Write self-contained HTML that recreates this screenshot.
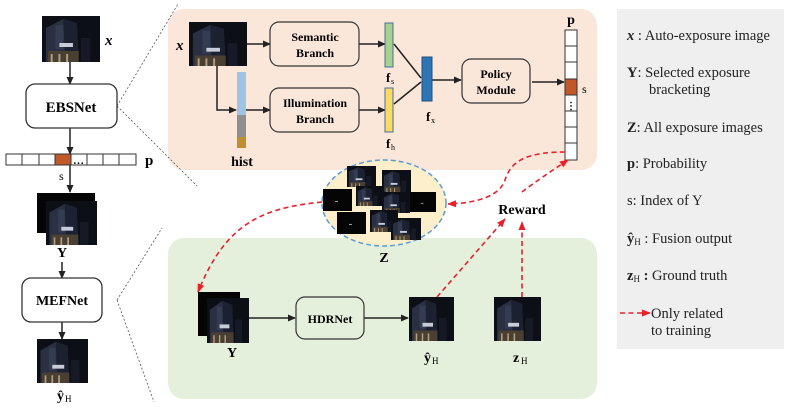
<!DOCTYPE html>
<html><head><meta charset="utf-8"><style>
html,body{margin:0;padding:0;background:#fff;}
svg{display:block;font-family:"Liberation Serif",serif;}
</style></head><body>
<svg width="789" height="409" viewBox="0 0 789 409" xmlns="http://www.w3.org/2000/svg">
<defs>
<symbol id="ph" viewBox="0 0 60 46" preserveAspectRatio="none">
<rect width="60" height="46" fill="#0d0f16"/>
<polygon points="4,12 22,3 36,7 38,46 4,46" fill="#2a3042"/>
<polygon points="22,3 36,7 38,46 24,46" fill="#1c2131"/>
<rect x="14" y="9" width="8" height="24" fill="#343c52"/>
<rect x="18" y="27" width="14" height="4" fill="#c8ccd8"/>
<rect x="6" y="35" width="32" height="11" fill="#4a3f33"/>
<rect x="9" y="38" width="2" height="8" fill="#b0a080"/>
<rect x="17" y="38" width="2" height="8" fill="#b0a080"/>
<rect x="25" y="38" width="2" height="8" fill="#b0a080"/>
<rect x="40" y="22" width="10" height="24" fill="#151a26"/>
</symbol>
<symbol id="dk" viewBox="0 0 60 46" preserveAspectRatio="none">
<rect width="60" height="46" fill="#050505"/>
<rect x="25" y="25" width="6" height="2" fill="#aaa"/>
</symbol>
<marker id="ah" markerWidth="8" markerHeight="8" refX="7" refY="4" orient="auto" markerUnits="userSpaceOnUse">
<path d="M0,0.5 L8,4 L0,7.5 Z" fill="#222"/></marker>
<marker id="rh" markerWidth="9" markerHeight="9" refX="8" refY="4.5" orient="auto" markerUnits="userSpaceOnUse">
<path d="M0,1 L9,4.5 L0,8 Z" fill="#e8202a"/></marker>
</defs>

<rect x="168" y="9" width="429" height="161" rx="16" fill="#fbe6da"/>
<rect x="168" y="238" width="429" height="161" rx="16" fill="#e4efdc"/>
<rect x="617" y="9" width="167" height="340" fill="#efefef"/>

<g stroke="#555" stroke-width="0.8" stroke-dasharray="2,2" fill="none">
<line x1="117" y1="106" x2="178" y2="4"/>
<line x1="117" y1="106" x2="197" y2="186"/>
<line x1="117" y1="300" x2="162" y2="228"/>
<line x1="117" y1="300" x2="154" y2="402"/>
</g>

<use href="#ph" x="42" y="16" width="58" height="46"/>
<text x="105" y="45" font-size="15" font-style="italic" font-weight="bold">x</text>
<g stroke="#222" stroke-width="1.5" fill="none">
<line x1="70" y1="62" x2="70" y2="84" marker-end="url(#ah)"/>
<line x1="70" y1="128" x2="70" y2="154" marker-end="url(#ah)"/>
<line x1="70" y1="165" x2="70" y2="192" marker-end="url(#ah)"/>
<line x1="62" y1="262" x2="62" y2="278" marker-end="url(#ah)"/>
<line x1="62" y1="322" x2="62" y2="339" marker-end="url(#ah)"/>
</g>
<rect x="26" y="84" width="91" height="44" rx="9" fill="#fff" stroke="#333" stroke-width="1.3"/>
<text x="71" y="112" font-size="15" font-weight="bold" text-anchor="middle">EBSNet</text>
<g stroke="#333" stroke-width="1" fill="#fff">
<rect x="6" y="154" width="16" height="11"/><rect x="22" y="154" width="17" height="11"/><rect x="39" y="154" width="16" height="11"/>
<rect x="55" y="154" width="16" height="11" fill="#c0582a"/><rect x="71" y="154" width="16" height="11"/>
<rect x="87" y="154" width="16" height="11"/><rect x="103" y="154" width="16" height="11"/><rect x="119" y="154" width="17" height="11"/>
</g>
<text x="73" y="164" font-size="11" font-weight="bold">…</text>
<text x="145" y="165" font-size="15" font-weight="bold">p</text>
<text x="59" y="180" font-size="12">s</text>
<use href="#dk" x="37" y="193" width="58" height="40"/>
<use href="#ph" x="46" y="201" width="51" height="44"/>
<text x="62" y="257" font-size="14" font-weight="bold" text-anchor="middle">Y</text>
<rect x="22" y="278" width="80" height="44" rx="9" fill="#fff" stroke="#333" stroke-width="1.3"/>
<text x="62" y="305" font-size="14" font-weight="bold" text-anchor="middle">MEFNet</text>
<use href="#ph" x="37" y="339" width="51" height="44"/>
<text x="57" y="400" font-size="14" font-weight="bold">ŷ</text><text x="65" y="402" font-size="9">H</text>

<use href="#ph" x="189" y="22" width="58" height="44"/>
<text x="176" y="50" font-size="15" font-style="italic" font-weight="bold">x</text>
<g stroke="#222" stroke-width="1.5" fill="none">
<line x1="247" y1="44" x2="270" y2="44" marker-end="url(#ah)"/>
<polyline points="217,66 217,110 236,110" marker-end="url(#ah)"/>
<line x1="246" y1="110" x2="270" y2="110" marker-end="url(#ah)"/>
<line x1="359" y1="44" x2="385" y2="44" marker-end="url(#ah)"/>
<line x1="359" y1="110" x2="385" y2="110" marker-end="url(#ah)"/>
<line x1="394" y1="44" x2="421" y2="78"/>
<line x1="394" y1="104" x2="421" y2="82"/>
<line x1="432" y1="80" x2="461" y2="80" marker-end="url(#ah)"/>
<line x1="532" y1="82" x2="564" y2="82" marker-end="url(#ah)"/>
</g>
<rect x="237" y="72" width="9" height="43" fill="#9dc3e6"/>
<rect x="237" y="115" width="9" height="22" fill="#8f8f8f"/>
<rect x="237" y="137" width="9" height="11" fill="#bf9030"/>
<text x="242" y="166" font-size="14" font-weight="bold" text-anchor="middle">hist</text>
<rect x="270" y="22" width="89" height="44" rx="9" fill="#fbe6da" stroke="#333" stroke-width="1.2"/>
<text x="315" y="41" font-size="12" font-weight="bold" text-anchor="middle">Semantic</text>
<text x="315" y="57" font-size="12" font-weight="bold" text-anchor="middle">Branch</text>
<rect x="270" y="88" width="89" height="44" rx="9" fill="#fbe6da" stroke="#333" stroke-width="1.2"/>
<text x="315" y="107" font-size="12" font-weight="bold" text-anchor="middle">Illumination</text>
<text x="315" y="123" font-size="12" font-weight="bold" text-anchor="middle">Branch</text>
<rect x="385" y="23" width="8" height="44" fill="#a9d18e" stroke="#41719c" stroke-width="1"/>
<rect x="385" y="88" width="8" height="44" fill="#ffd966" stroke="#41719c" stroke-width="1"/>
<text x="386" y="82" font-size="13" font-weight="bold">f</text><text x="391" y="84" font-size="8">s</text>
<text x="386" y="148" font-size="13" font-weight="bold">f</text><text x="391" y="150" font-size="8">h</text>
<rect x="422" y="57" width="10" height="44" fill="#2e75b6" stroke="#1f4e79" stroke-width="1"/>
<text x="426" y="121" font-size="13" font-weight="bold">f</text><text x="431" y="123" font-size="8">x</text>
<rect x="462" y="59" width="68" height="44" rx="9" fill="#fbe6da" stroke="#333" stroke-width="1.2"/>
<text x="496" y="78" font-size="12" font-weight="bold" text-anchor="middle">Policy</text>
<text x="496" y="94" font-size="12" font-weight="bold" text-anchor="middle">Module</text>
<g stroke="#333" stroke-width="1" fill="#fff">
<rect x="565" y="30" width="12" height="16"/><rect x="565" y="46" width="12" height="16"/><rect x="565" y="62" width="12" height="17"/>
<rect x="565" y="79" width="12" height="16" fill="#c0582a"/><rect x="565" y="95" width="12" height="16"/>
<rect x="565" y="111" width="12" height="16"/><rect x="565" y="127" width="12" height="16"/><rect x="565" y="143" width="12" height="17"/>
</g>
<text x="571" y="109" font-size="10" font-weight="bold" text-anchor="middle">⋮</text>
<text x="571" y="24" font-size="14" font-weight="bold" text-anchor="middle">p</text>
<text x="582" y="93" font-size="12">s</text>

<ellipse cx="384" cy="203" rx="62" ry="43" fill="#fdefcc" stroke="#5b9bd5" stroke-width="1.5" stroke-dasharray="5,3"/>
<use href="#ph" x="347" y="166" width="29" height="21"/>
<use href="#ph" x="382" y="170" width="29" height="22"/>
<use href="#dk" x="323" y="189" width="29" height="22"/>
<use href="#ph" x="356" y="186" width="26" height="20"/>
<use href="#ph" x="382" y="192" width="28" height="21"/>
<use href="#dk" x="410" y="192" width="26" height="20"/>
<use href="#dk" x="337" y="212" width="29" height="22"/>
<use href="#ph" x="370" y="210" width="28" height="22"/>
<use href="#ph" x="391" y="218" width="30" height="22"/>
<text x="384" y="262" font-size="14" font-weight="bold" text-anchor="middle">Z</text>
<text x="522" y="214" font-size="14" font-weight="bold" text-anchor="middle">Reward</text>

<use href="#dk" x="198" y="292" width="42" height="44"/>
<use href="#ph" x="207" y="298" width="42" height="45"/>
<text x="232" y="357" font-size="14" font-weight="bold" text-anchor="middle">Y</text>
<g stroke="#222" stroke-width="1.5" fill="none">
<line x1="249" y1="318" x2="295" y2="318" marker-end="url(#ah)"/>
<line x1="364" y1="318" x2="408" y2="318" marker-end="url(#ah)"/>
</g>
<rect x="296" y="297" width="68" height="42" rx="9" fill="#e4efdc" stroke="#333" stroke-width="1.2"/>
<text x="330" y="323" font-size="12" font-weight="bold" text-anchor="middle">HDRNet</text>
<use href="#ph" x="409" y="297" width="45" height="44"/>
<use href="#ph" x="494" y="297" width="47" height="44"/>
<text x="424" y="362" font-size="14" font-weight="bold">ŷ</text><text x="432" y="364" font-size="9">H</text>
<text x="513" y="362" font-size="14" font-weight="bold">z</text><text x="521" y="364" font-size="9">H</text>

<g stroke="#e8202a" stroke-width="1.6" fill="none" stroke-dasharray="5,3.5">
<path d="M565,152 C520,152 510,165 505,180 C500,195 480,203 448,204" marker-end="url(#rh)"/>
<path d="M522,192 C535,182 550,172 568,160" marker-end="url(#rh)"/>
<path d="M322,202 C260,208 225,225 198,292" marker-end="url(#rh)"/>
<path d="M437,297 L505,219" marker-end="url(#rh)"/>
<path d="M522,297 L522,222" marker-end="url(#rh)"/>
<path d="M620,313 L650,313" marker-end="url(#rh)"/>
</g>

<g font-size="14.5" fill="#222">
<text x="627" y="40"><tspan font-style="italic" font-weight="bold">x</tspan> :  Auto-exposure image</text>
<text x="627" y="77"><tspan font-weight="bold">Y</tspan>:  Selected exposure</text>
<text x="649" y="94">bracketing</text>
<text x="627" y="132"><tspan font-weight="bold">Z</tspan>:  All exposure images</text>
<text x="627" y="168"><tspan font-weight="bold">p</tspan>:   Probability</text>
<text x="627" y="205">s:   Index of Y</text>
<text x="627" y="243"><tspan font-weight="bold">ŷ</tspan><tspan font-size="9" dy="2">H</tspan><tspan dy="-2"> : Fusion output</tspan></text>
<text x="627" y="280"><tspan font-weight="bold">z</tspan><tspan font-size="9" dy="2">H</tspan><tspan dy="-2" font-weight="bold"> :</tspan> Ground truth</text>
<text x="651" y="318">Only related</text>
<text x="651" y="335">to training</text>
</g>
</svg>
</body></html>
